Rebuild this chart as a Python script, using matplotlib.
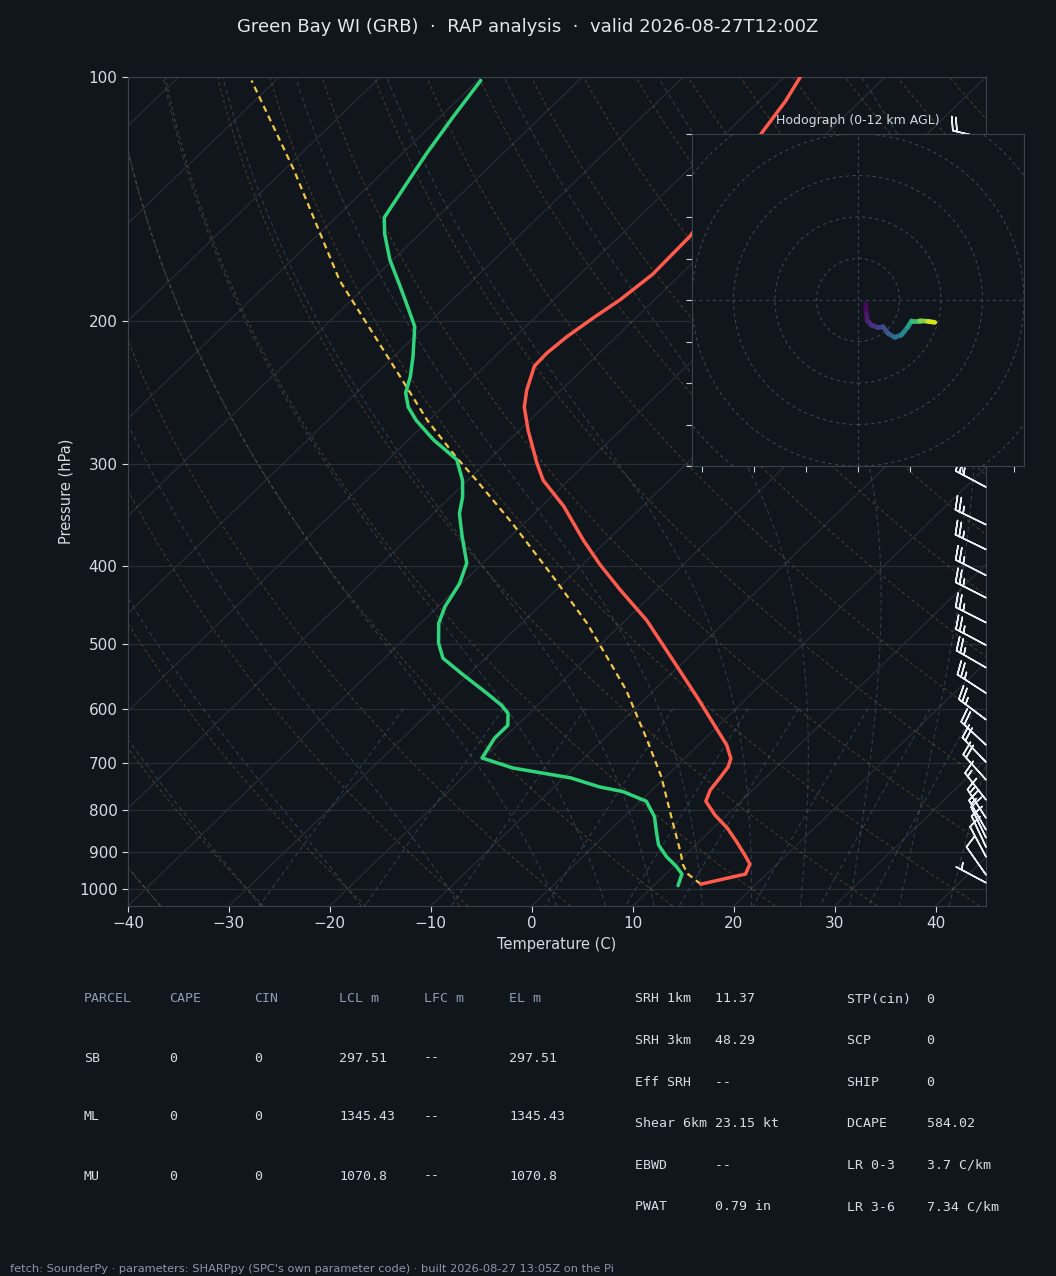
import numpy as np
import matplotlib
matplotlib.use("Agg")
import matplotlib.pyplot as plt
from matplotlib.transforms import Affine2D, blended_transform_factory
from matplotlib.collections import LineCollection
from matplotlib.patches import Circle
from matplotlib.ticker import FixedLocator, NullLocator

BG = '#11151c'
EDGE = '#39424f'
TXT = '#d5dbe3'

# ---- sounding (hPa, degC) ----
pres_t = [987, 959, 932, 909, 875, 842, 811, 780, 756, 730, 708, 691, 665, 638,
          580, 523, 467, 428, 399, 372, 338, 314, 299, 272, 255, 243, 227, 219,
          209, 198, 188, 175, 157, 117, 107, 100]
temp = [14.5, 17.9, 17.3, 15.9, 13.7, 11.4, 8.8, 6.5, 5.8, 5.5, 5.2, 4.6, 2.8, 0.4,
        -5.1, -11.2, -17.9, -23.7, -28.2, -32.4, -37.8, -42.5, -44.9, -49.2, -51.9,
        -53.4, -55.1, -55.2, -54.9, -54.2, -53.4, -52.8, -53.0, -56.5, -57.4, -58.4]

pres_td = [991, 959, 939, 913, 883, 854, 815, 780, 759, 749, 730, 710, 690, 652,
           629, 608, 594, 574, 545, 520, 498, 471, 449, 421, 397, 368, 345, 329,
           314, 296, 280, 265, 255, 245, 234, 221, 203, 194, 181, 168, 156, 149,
           135, 124, 112, 101]
dewp = [12.4, 11.6, 10.3, 8.3, 6.3, 4.9, 3.0, 0.6, -2.7, -5.5, -9.3, -16.0, -20.1,
        -20.9, -20.9, -22.1, -23.6, -26.3, -30.5, -34.2, -36.2, -38.2, -39.3, -40.2,
        -41.6, -44.8, -47.4, -48.8, -50.5, -53.2, -57.5, -61.2, -63.4, -65.1, -66.3,
        -68.1, -71.0, -73.2, -76.6, -80.3, -83.5, -85.2, -86.5, -87.6, -88.7, -89.7]

pres_parcel = [987, 959, 935, 903, 823, 728, 653, 569, 518, 471, 413, 355, 314,
               294, 265, 234, 178, 130, 101]
parcel = [14.5, 12.2, 10.8, 9.3, 5.1, -0.4, -5.8, -12.8, -18.1, -23.5, -31.6, -41.1,
          -49.1, -53.5, -60.1, -67.3, -83.2, -99.1, -112.4]

# ---- winds (barbs), kt and direction from ----
barb_p = [983, 961, 913, 888, 865, 846, 818, 777, 734, 698, 665, 619, 574, 534,
          501, 470, 438, 411, 382, 356, 320, 286, 268, 250, 233, 218, 204, 190,
          178, 166, 155, 145, 135, 127, 119]
barb_kt = [5, 10, 10, 10, 10, 15, 15, 15, 20, 20, 20, 25, 25, 25, 25, 25, 25, 25,
           25, 25, 25, 30, 30, 35, 35, 35, 35, 40, 40, 35, 35, 30, 25, 25, 20]
barb_dir = [298, 325, 332, 335, 334, 330, 327, 322, 318, 316, 313, 307, 303, 300,
            298, 297, 297, 297, 296, 296, 298, 295, 293, 291, 290, 288, 287, 286,
            286, 285, 285, 284, 284, 283, 283]

# ---- hodograph 0-12 km (kt) ----
hodo_km = [0, 0.5, 1.0, 1.5, 2.0, 2.5, 3.0, 4.0, 5.0, 6.0, 7.5, 9.0, 10.5, 12.0]
hodo_u = [3.6, 4.1, 4.5, 6.5, 9.7, 12.1, 14.5, 17.7, 20.9, 24.1, 25.8, 29.8, 33.8, 37.0]
hodo_v = [-1.9, -6.4, -10.0, -12.1, -13.3, -12.9, -16.1, -18.0, -16.9, -12.9, -10.0,
          -10.0, -10.3, -10.8]

# ---- parameter tables ----
tbl_head = ['PARCEL', 'CAPE', 'CIN', 'LCL m', 'LFC m', 'EL m']
tbl_rows = [['SB', '0', '0', '297.51', '--', '297.51'],
            ['ML', '0', '0', '1345.43', '--', '1345.43'],
            ['MU', '0', '0', '1070.8', '--', '1070.8']]
kin_names = ['SRH 1km', 'SRH 3km', 'Eff SRH', 'Shear 6km', 'EBWD', 'PWAT']
kin_vals = ['11.37', '48.29', '--', '23.15 kt', '--', '0.79 in']
thermo_names = ['STP(cin)', 'SCP', 'SHIP', 'DCAPE', 'LR 0-3', 'LR 3-6']
thermo_vals = ['0', '0', '0', '584.02', '3.7 C/km', '7.34 C/km']

W, H = 1056, 1276
fig = plt.figure(figsize=(W / 100, H / 100), dpi=100, facecolor=BG)

ax = fig.add_axes([128 / W, 1 - 906 / H, 858 / W, 829 / H])
ax.set_facecolor(BG)
ax.set_yscale('log')
ax.set_xlim(-40, 45)
ax.set_ylim(1050, 100)
ax.set_autoscale_on(False)
skew = ax.transScale + (ax.transLimits + Affine2D().skew_deg(45, 0) + ax.transAxes)

# isotherms
for t in range(-120, 50, 10):
    ax.plot([t, t], [1050, 100], transform=skew, color='#262d37', lw=0.9, zorder=1)

# dry adiabats
pp = np.geomspace(1050, 100, 120)
dry = []
for t0 in np.arange(-40, 246, 10):
    tt = (t0 + 273.15) * (pp / 1000.0) ** 0.2857 - 273.15
    dry.append(np.column_stack([tt, pp]))
ax.add_collection(LineCollection(dry, transform=skew, colors='#a8743c', alpha=0.38,
                                 linewidths=0.8, linestyles=(0, (3.0, 2.5)), zorder=1),
                  autolim=False)


# moist adiabats (reference 1000 hPa)
def moist_rate(T, p):
    es = 6.112 * np.exp(17.67 * (T - 273.15) / (T - 29.65))
    rs = 0.622 * es / (p - es)
    return (287.05 * T + 2.501e6 * rs) / (1004.67 + 2.501e6 ** 2 * rs * 0.622 / (287.05 * T * T))


def integrate(T0, plist):
    out = [T0]
    T = T0
    for a, b in zip(plist[:-1], plist[1:]):
        h = np.log(b) - np.log(a)
        pm = np.sqrt(a * b)
        k1 = moist_rate(T, a)
        k2 = moist_rate(T + h / 2 * k1, pm)
        k3 = moist_rate(T + h / 2 * k2, pm)
        k4 = moist_rate(T + h * k3, b)
        T = T + h / 6 * (k1 + 2 * k2 + 2 * k3 + k4)
        out.append(T)
    return np.array(out)


t0m = np.concatenate([np.arange(-40, 0, 10), np.arange(0, 46, 5)]) + 273.15
p_up = np.geomspace(1000, 100, 150)
p_dn = np.geomspace(1000, 1050, 8)
moist = []
for t0 in t0m:
    up = integrate(t0, p_up)
    dn = integrate(t0, p_dn)
    tt = np.concatenate([dn[::-1], up[1:]]) - 273.15
    ps = np.concatenate([p_dn[::-1], p_up[1:]])
    moist.append(np.column_stack([tt, ps]))
ax.add_collection(LineCollection(moist, transform=skew, colors='#56748c', alpha=0.42,
                                 linewidths=0.8, linestyles=(0, (4.0, 3.0)), zorder=1),
                  autolim=False)

# mixing ratio lines
pm = np.linspace(600, 1050, 30)
mix = []
for w in [0.0004, 0.001, 0.002, 0.004, 0.007, 0.01, 0.016, 0.024, 0.032]:
    e = pm * w / (0.622 + w)
    le = np.log(e / 6.112)
    td = 243.5 * le / (17.67 - le)
    mix.append(np.column_stack([td, pm]))
ax.add_collection(LineCollection(mix, transform=skew, colors='#4d7896', alpha=0.42,
                                 linewidths=0.8, linestyles=(0, (4.0, 3.0)), zorder=1),
                  autolim=False)

# isobars
ax.yaxis.grid(True, color='#262e38', lw=0.9, zorder=1)
ax.set_axisbelow(True)

# profiles
ax.plot(temp, pres_t, transform=skew, color='#ff5b4c', lw=2.5, zorder=6,
        solid_capstyle='round', solid_joinstyle='round')
ax.plot(dewp, pres_td, transform=skew, color='#2fd57a', lw=2.5, zorder=6,
        solid_capstyle='round', solid_joinstyle='round')
ax.plot(parcel, pres_parcel, transform=skew, color='#f3c744', lw=1.6,
        ls=(0, (2.8, 2.0)), zorder=5)

# wind barbs at the right edge
bspd = np.array(barb_kt, dtype=float)
bdir = np.radians(barb_dir)
bu = -bspd * np.sin(bdir)
bv = -bspd * np.cos(bdir)
btr = blended_transform_factory(ax.transAxes, ax.transData)
ax.barbs(np.ones(len(barb_p)), barb_p, bu, bv, transform=btr, length=7,
         color='#e9eef5', linewidth=1.1, clip_on=False, zorder=4)

ax.yaxis.set_major_locator(FixedLocator(range(100, 1001, 100)))
ax.yaxis.set_minor_locator(NullLocator())
ax.set_yticklabels([str(v) for v in range(100, 1001, 100)])
ax.set_xticks(range(-40, 41, 10))
ax.tick_params(colors=TXT, labelsize=11, direction='out', length=4)
for s in ax.spines.values():
    s.set_color(EDGE)
ax.set_xlabel('Temperature (C)', color=TXT, fontsize=10.5)
ax.set_ylabel('Pressure (hPa)', color=TXT, fontsize=10.5)

# hodograph inset
hax = fig.add_axes([692 / W, 1 - 466 / H, 332 / W, 332 / H])
hax.set_facecolor(BG)
hax.set_xlim(-80, 80)
hax.set_ylim(-80, 80)
for r in (20, 40, 60, 80, 100, 120):
    hax.add_patch(Circle((0, 0), r, fill=False, ec='#3a4452', lw=0.8, ls=(0, (3, 3))))
hax.axhline(0, color='#3a4452', lw=0.8, ls=(0, (3, 3)))
hax.axvline(0, color='#3a4452', lw=0.8, ls=(0, (3, 3)))
pts = np.column_stack([hodo_u, hodo_v])
segs = np.stack([pts[:-1], pts[1:]], axis=1)
mid_km = (np.array(hodo_km[:-1]) + np.array(hodo_km[1:])) / 2
lc = LineCollection(segs, cmap='viridis', linewidths=3.4, capstyle='round')
lc.set_array(mid_km)
lc.set_clim(0, 12)
hax.add_collection(lc)
hax.set_xticks(range(-75, 76, 25))
hax.set_yticks(range(-80, 81, 20))
hax.set_xticklabels([])
hax.set_yticklabels([])
hax.tick_params(colors='#c8d0da', direction='out', length=4)
for s in hax.spines.values():
    s.set_color(EDGE)
hax.set_title('Hodograph (0-12 km AGL)', color=TXT, fontsize=9, pad=7)

# title
fig.text(0.5, 1 - 27 / H, 'Green Bay WI (GRB)  \u00b7  RAP analysis  \u00b7  valid 2026-08-27T12:00Z',
         ha='center', va='center', color='#e2e7ee', fontsize=13)

# parcel table
mono = 'DejaVu Sans Mono'
col_x = [84, 169, 254, 339, 424, 509]
for cx, h in zip(col_x, tbl_head):
    fig.text(cx / W, 1 - 999 / H, h, family=mono, fontsize=9.5, color='#8c9db5', va='center')
for i, row in enumerate(tbl_rows):
    y = 1058 + 59 * i
    for cx, v in zip(col_x, row):
        fig.text(cx / W, 1 - y / H, v, family=mono, fontsize=9.5, color='#d8dde5', va='center')

for i in range(len(kin_names)):
    y = 999 + 41.6 * i
    fig.text(635 / W, 1 - y / H, f'{kin_names[i]:<10}{kin_vals[i]}', family=mono,
             fontsize=9.5, color='#d8dde5', va='center')
    fig.text(847 / W, 1 - y / H, f'{thermo_names[i]:<10}{thermo_vals[i]}', family=mono,
             fontsize=9.5, color='#d8dde5', va='center')

fig.text(10 / W, 1 - 1269 / H,
         "fetch: SounderPy \u00b7 parameters: SHARPpy (SPC's own parameter code) \u00b7 built 2026-08-27 13:05Z on the Pi",
         fontsize=8.2, color='#8b97a8', va='center')

fig.savefig('out.png', dpi=100, facecolor=BG)
